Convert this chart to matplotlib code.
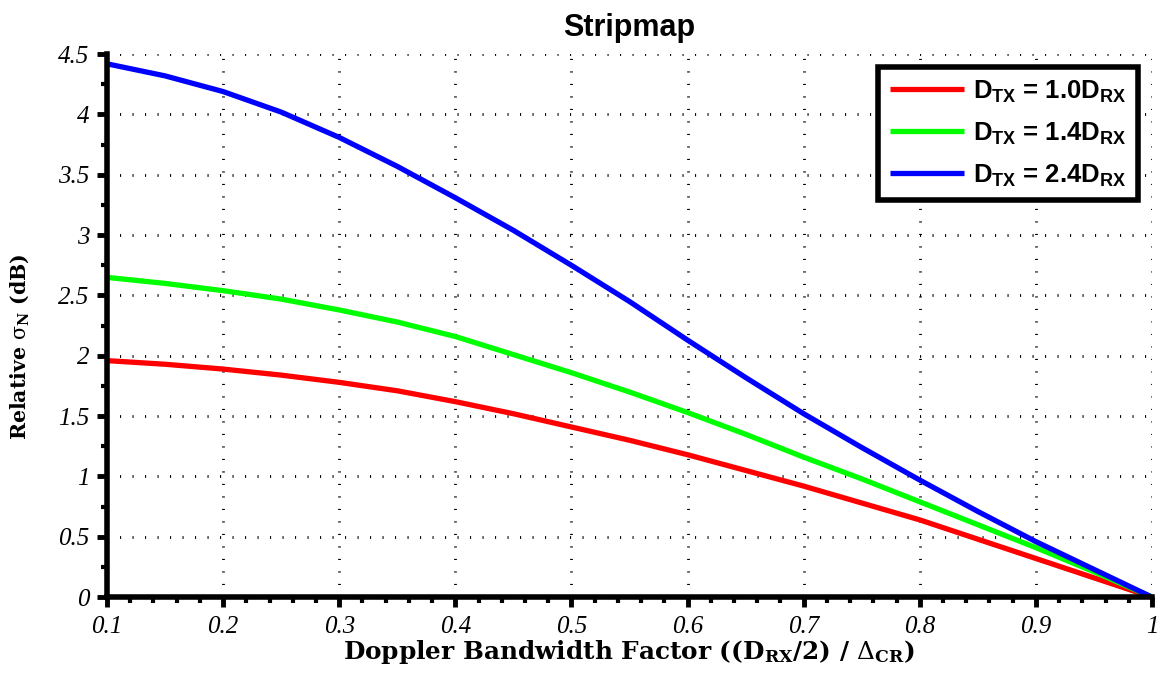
import matplotlib
matplotlib.use("Agg")
import matplotlib.pyplot as plt
from matplotlib.ticker import MultipleLocator

plt.rcParams['mathtext.fontset'] = 'custom'
plt.rcParams['mathtext.rm'] = 'Liberation Sans'
plt.rcParams['mathtext.bf'] = 'Liberation Sans:bold'

# doppler bandwidth factor
x = [0.1, 0.15, 0.2, 0.25, 0.3, 0.35, 0.4, 0.45, 0.5, 0.55,
     0.6, 0.65, 0.7, 0.75, 0.8, 0.85, 0.9, 0.95, 1.0]
# relative sigma_N (dB)
d10 = [1.96, 1.93, 1.89, 1.84, 1.78, 1.71, 1.62, 1.52, 1.41, 1.30,
       1.18, 1.05, 0.92, 0.78, 0.64, 0.48, 0.32, 0.16, 0.0]
d14 = [2.65, 2.60, 2.54, 2.47, 2.38, 2.28, 2.16, 2.01, 1.86, 1.70,
       1.53, 1.35, 1.16, 0.98, 0.79, 0.60, 0.41, 0.21, 0.0]
d24 = [4.42, 4.32, 4.19, 4.02, 3.81, 3.57, 3.31, 3.04, 2.75, 2.45,
       2.13, 1.82, 1.52, 1.24, 0.97, 0.71, 0.46, 0.23, 0.0]

labels = [r'D$_{\mathbf{TX}}$ = 1.0D$_{\mathbf{RX}}$',
          r'D$_{\mathbf{TX}}$ = 1.4D$_{\mathbf{RX}}$',
          r'D$_{\mathbf{TX}}$ = 2.4D$_{\mathbf{RX}}$']
colors = ['#ff0000', '#00ff00', '#0000ff']

xticks = [0.1, 0.2, 0.3, 0.4, 0.5, 0.6, 0.7, 0.8, 0.9, 1.0]
xticklabels = ['0.1', '0.2', '0.3', '0.4', '0.5', '0.6', '0.7', '0.8', '0.9', '1']
yticks = [0, 0.5, 1, 1.5, 2, 2.5, 3, 3.5, 4, 4.5]
yticklabels = ['0', '0.5', '1', '1.5', '2', '2.5', '3', '3.5', '4', '4.5']

fig = plt.figure(figsize=(11.68, 6.77), dpi=100)
ax = fig.add_axes([0.0916, 0.118, 0.8947, 0.802])

for ys, c, lab in zip([d10, d14, d24], colors, labels):
    ax.plot(x, ys, color=c, lw=3.8, label=lab, solid_capstyle='butt')

ax.set_xlim(0.1, 1.0)
ax.set_ylim(0, 4.5)
ax.set_xticks(xticks)
ax.set_xticklabels(xticklabels)
ax.set_yticks(yticks)
ax.set_yticklabels(yticklabels)
ax.xaxis.set_minor_locator(MultipleLocator(0.02))
ax.yaxis.set_minor_locator(MultipleLocator(0.25))

for lab in ax.get_xticklabels() + ax.get_yticklabels():
    lab.set_fontfamily('Liberation Serif')
    lab.set_fontstyle('italic')
    lab.set_fontsize(18)

ax.tick_params(which='major', direction='out', length=7.5, width=3.5, pad=5)
ax.tick_params(which='minor', direction='out', length=4, width=3)
ax.tick_params(axis='x', which='major', pad=6)

ax.spines['top'].set_visible(False)
ax.spines['right'].set_visible(False)
ax.spines['left'].set_linewidth(4)
ax.spines['bottom'].set_linewidth(4)

ax.grid(True, which='major', color='black', lw=2.0, linestyle=(0, (0.4, 4.1)))

ax.set_title('Stripmap', fontfamily='Liberation Sans', fontweight='bold', fontsize=22, pad=13)
ax.set_xlabel(r'Doppler Bandwidth Factor ((D$_{\mathbf{RX}}$/2) / $\Delta_{\mathbf{CR}}$)',
              fontfamily='DejaVu Serif', fontweight='bold', fontsize=17.8,
              math_fontfamily='dejavuserif', labelpad=0)
ax.set_ylabel(r'Relative $\mathrm{\sigma}_{\mathbf{N}}$ (dB)',
              fontfamily='DejaVu Serif', fontweight='bold', fontsize=14.8,
              math_fontfamily='dejavuserif')
ax.yaxis.set_label_coords(-0.073, 0.462)

leg = ax.legend(loc='upper right', bbox_to_anchor=(0.987, 0.977), borderaxespad=0,
                prop={'family': 'Liberation Sans', 'weight': 'bold', 'size': 18.5},
                fancybox=False, edgecolor='black', framealpha=1,
                handlelength=2.9, handletextpad=0.35, labelspacing=0.6,
                borderpad=0.45)
leg.get_frame().set_linewidth(4)

fig.savefig('out.png', dpi=100)
